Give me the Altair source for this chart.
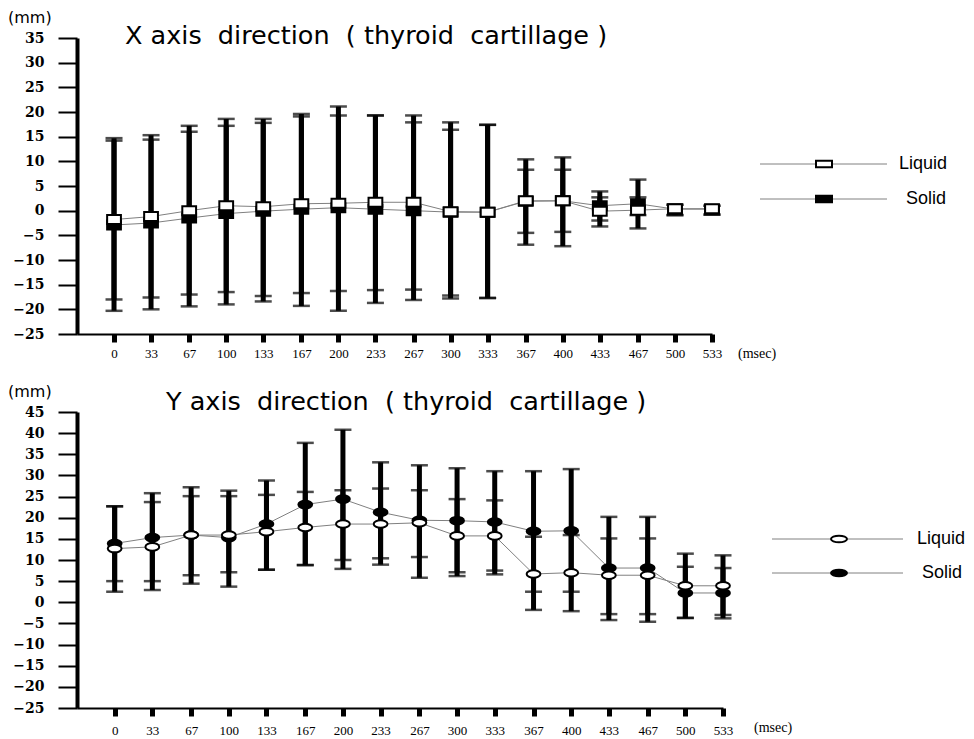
import altair as alt
import pandas as pd

# ---------------- data ----------------
times = [0, 33, 67, 100, 133, 167, 200, 233, 267, 300, 333, 367, 400, 433, 467, 500, 533]
series_names = ["Liquid", "Solid"]

# X axis direction (thyroid cartillage)  [mm]
x_liq_mean = [-1.8, -1.2, 0.0, 1.0, 0.8, 1.4, 1.5, 1.7, 1.7, -0.2, -0.3, 2.0, 2.0, -0.1, 0.1, 0.4, 0.4]
x_liq_lo = [-18.0, -17.6, -17.0, -16.5, -17.3, -16.7, -16.3, -16.1, -16.0, -17.8, -17.7, -4.5, -4.3, -3.2, -0.9, -0.9, -0.8]
x_liq_hi = [14.7, 15.3, 17.2, 18.6, 18.6, 19.6, 19.3, 19.3, 19.3, 17.9, 17.4, 8.3, 8.3, 2.7, 2.7, 1.2, 1.0]
x_sol_mean = [-2.9, -2.5, -1.5, -0.6, -0.1, 0.3, 0.6, 0.3, 0.0, -0.3, -0.3, 1.9, 2.0, 1.0, 1.4, 0.3, 0.3]
x_sol_lo = [-20.3, -20.0, -19.4, -19.0, -18.4, -19.3, -20.3, -18.7, -18.1, -17.2, -17.7, -6.9, -7.2, -2.0, -3.6, -0.9, -0.8]
x_sol_hi = [14.2, 14.4, 16.0, 17.2, 17.8, 19.1, 21.1, 19.3, 17.9, 16.4, 17.4, 10.4, 10.8, 3.9, 6.3, 1.2, 1.0]

# Y axis direction (thyroid cartillage)  [mm]
y_liq_mean = [12.7, 13.1, 15.9, 15.9, 16.7, 17.7, 18.5, 18.5, 18.8, 15.7, 15.7, 6.7, 7.0, 6.4, 6.4, 3.9, 3.9]
y_liq_lo = [2.5, 2.9, 6.4, 7.1, 7.7, 8.8, 10.0, 10.4, 10.7, 7.1, 7.5, -1.8, -2.1, -2.8, -2.8, -3.7, -3.0]
y_liq_hi = [22.7, 23.7, 25.1, 25.1, 25.4, 26.1, 26.5, 26.9, 26.5, 24.4, 24.1, 15.5, 15.9, 15.1, 15.1, 8.4, 8.1]
y_sol_mean = [13.9, 15.3, 15.9, 15.3, 18.5, 23.1, 24.4, 21.3, 19.4, 19.3, 19.0, 16.8, 16.9, 8.1, 8.1, 2.2, 2.2]
y_sol_lo = [5.0, 5.0, 4.4, 3.7, 7.7, 8.8, 7.9, 8.9, 5.8, 6.2, 6.6, 2.5, 2.5, -4.2, -4.6, -3.7, -3.8]
y_sol_hi = [22.7, 25.8, 27.2, 26.4, 28.8, 37.7, 40.8, 33.1, 32.4, 31.7, 31.0, 31.0, 31.5, 20.2, 20.2, 11.5, 11.1]

x_ticks_top = list(range(-25, 36, 5))
y_ticks_bottom = list(range(-25, 46, 5))

NB = "\u00a0"
title_top = f"X axis {NB}direction {NB}( thyroid {NB}cartillage )"
title_bottom = f"Y axis {NB}direction {NB}( thyroid {NB}cartillage )"


def make_df(liq_mean, liq_lo, liq_hi, sol_mean, sol_lo, sol_hi):
    rows = []
    for i, t in enumerate(times):
        rows.append({"t": t, "series": "Liquid", "mean": liq_mean[i], "lo": liq_lo[i], "hi": liq_hi[i]})
        rows.append({"t": t, "series": "Solid", "mean": sol_mean[i], "lo": sol_lo[i], "hi": sol_hi[i]})
    return pd.DataFrame(rows)


RECT = "M-1,-0.65 L1,-0.65 L1,0.65 L-1,0.65 Z"
RECT_LEG = "M-1,-0.4 L1,-0.4 L1,0.4 L-1,0.4 Z"
ELL = "M-1,0 A1,0.55 0 1,0 1,0 A1,0.55 0 1,0 -1,0 Z"
ELL_LEG = "M-1,0 A1,0.42 0 1,0 1,0 A1,0.42 0 1,0 -1,0 Z"

one = pd.DataFrame({"k": [0]})


def panel(df, ydomain, yvalues, width, title, shape, shape_leg, leg):
    xs = alt.Scale(domain=[-33, 533], nice=False, zero=False)
    ys = alt.Scale(domain=ydomain, nice=False, zero=False)
    xax = alt.Axis(values=times, format="d", title=None, grid=False,
                   domainColor="black", domainWidth=2, tickColor="black",
                   tickWidth=5, tickSize=8, labelFont="Liberation Serif",
                   labelFontSize=13, labelColor="black", labelPadding=leg["lp"],
                   labelOverlap=False, labelFlush=False, labelBound=False)
    yax = alt.Axis(values=yvalues, title=None, grid=False,
                   domainColor="black", domainWidth=4, tickColor="black",
                   tickWidth=2, tickSize=19, labelFont="DejaVu Serif",
                   labelFontWeight="bold", labelFontSize=14, labelColor="black",
                   labelPadding=14, labelOverlap=False, labelFlush=False,
                   labelBound=False)
    X = alt.X("t:Q", scale=xs, axis=xax)

    def Y(f):
        return alt.Y(f, type="quantitative", scale=ys, axis=yax)

    base = alt.Chart(df)
    lines = base.mark_line(color="#808080", strokeWidth=1).encode(
        x=X, y=Y("mean"), detail="series:N")
    bars = base.mark_rule(color="black", strokeWidth=5).encode(
        x=X, y=Y("lo"), y2="hi:Q")
    caps_hi = base.mark_tick(color="black", orient="horizontal", size=17, thickness=2.5).encode(
        x=X, y=Y("hi"))
    caps_lo = base.mark_tick(color="black", orient="horizontal", size=17, thickness=2.5).encode(
        x=X, y=Y("lo"))
    pts_sol = base.transform_filter(alt.datum.series == "Solid").mark_point(
        shape=shape, size=190, filled=True, fill="black", stroke="black", strokeWidth=2,
        opacity=1).encode(x=X, y=Y("mean"))
    pts_liq = base.transform_filter(alt.datum.series == "Liquid").mark_point(
        shape=shape, size=190, filled=True, fill="white", stroke="black", strokeWidth=2,
        opacity=1).encode(x=X, y=Y("mean"))

    ob = alt.Chart(one)
    ttl = ob.mark_text(text=title, font="DejaVu Sans", fontSize=25.5, align="left",
                       baseline="alphabetic", color="black").encode(
        x=alt.value(leg["tx"]), y=alt.value(leg["ty"]))
    mm = ob.mark_text(text="(mm)", font="DejaVu Sans", fontSize=16, align="left",
                      baseline="alphabetic", color="black").encode(
        x=alt.value(-69), y=alt.value(-15))
    msec = ob.mark_text(text="(msec)", font="Liberation Serif", fontSize=14, align="left",
                        baseline="alphabetic", color="black").encode(
        x=alt.value(leg["mx"]), y=alt.value(leg["my"]))
    layers = [lines, bars, caps_hi, caps_lo, pts_sol, pts_liq, ttl, mm, msec]
    for name, yy, tx, fill in [("Liquid", leg["y1"], leg["t1"], "white"),
                               ("Solid", leg["y2"], leg["t2"], "black")]:
        layers.append(ob.mark_rule(color="#808080", strokeWidth=1).encode(
            x=alt.value(leg["x0"]), x2=alt.value(leg["x1"]), y=alt.value(yy)))
        layers.append(ob.mark_point(shape=shape_leg, size=256, filled=True, fill=fill,
                                    stroke="black", strokeWidth=2, opacity=1).encode(
            x=alt.value(leg["xm"]), y=alt.value(yy)))
        layers.append(ob.mark_text(text=name, font="Liberation Sans", fontSize=18,
                                   align="left", baseline="middle", color="black").encode(
            x=alt.value(tx), y=alt.value(yy)))
    return alt.layer(*layers).properties(width=width, height=296)


top = panel(make_df(x_liq_mean, x_liq_lo, x_liq_hi, x_sol_mean, x_sol_lo, x_sol_hi),
            [-25, 35], x_ticks_top, 635, title_top, RECT, RECT_LEG,
            dict(tx=48, ty=6, mx=661, my=320, lp=5, x0=683, x1=810, xm=747,
                 y1=126, y2=161, t1=822, t2=829))
bottom = panel(make_df(y_liq_mean, y_liq_lo, y_liq_hi, y_sol_mean, y_sol_lo, y_sol_hi),
               [-25, 45], y_ticks_bottom, 646, title_bottom, ELL, ELL_LEG,
               dict(tx=89, ty=-2, mx=677, my=320, lp=8, x0=695, x1=826, xm=762,
                    y1=127, y2=161, t1=840, t2=845))

chart = alt.vconcat(top, bottom, spacing=23).properties(
    padding={"left": 0, "top": 2, "right": 0, "bottom": 0}
).configure(background="white").configure_view(strokeWidth=0).configure_axis(
    labelOverlap=False, labelFlush=False)

chart.save("out.html", embed_options={"renderer": "svg", "actions": False})
